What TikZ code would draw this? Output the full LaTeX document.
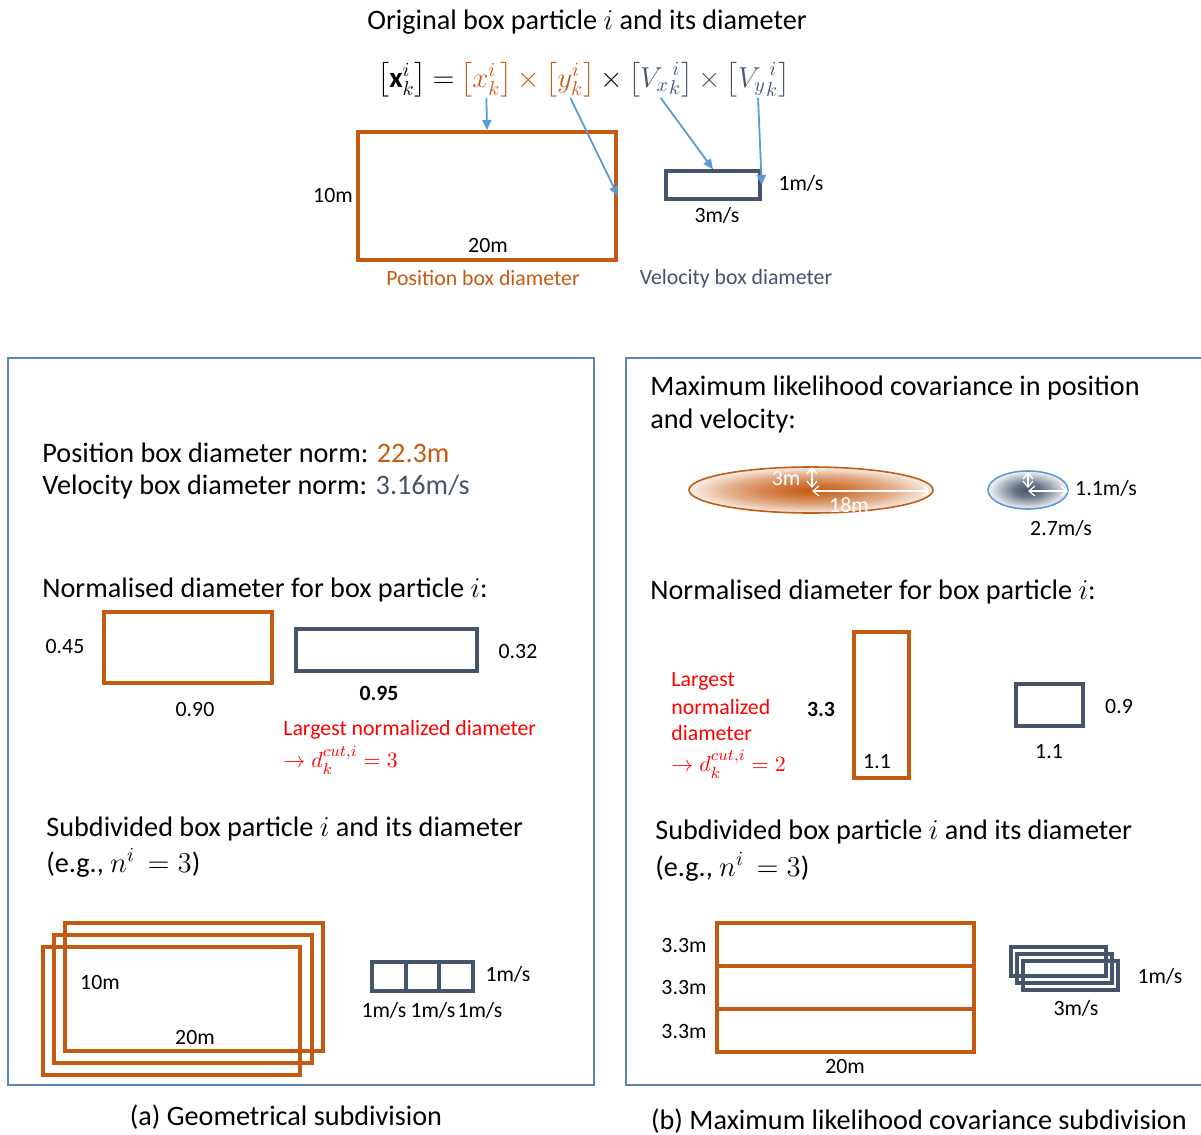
\documentclass[tikz,border=0pt]{standalone}
\usepackage{fontspec}
\setmainfont{Carlito}
\usepackage{amsmath, amssymb}
\usetikzlibrary{arrows.meta, positioning}
\definecolor{posorange}{HTML}{C55A11}
\definecolor{velslate}{HTML}{44546A}
\definecolor{linkblue}{HTML}{5B9BD5}
\definecolor{frameblue}{HTML}{5A85B5}
\newcommand{\sizebig}{\fontsize{14.1}{17}\selectfont}
\newcommand{\sizesmall}{\fontsize{10.9}{13}\selectfont}
\newcommand{\sizeform}{\fontsize{14.5}{17}\selectfont}
\pgfdeclareradialshading{posglow}{\pgfpoint{0bp}{0bp}}{color(0bp)=(posorange); color(8bp)=(posorange!80); color(17bp)=(posorange!48); color(25bp)=(posorange!10); color(50bp)=(posorange!10)}
\pgfdeclareradialshading{velglow}{\pgfpoint{0bp}{0bp}}{color(0bp)=(velslate); color(9bp)=(velslate!80); color(18bp)=(velslate!38); color(25bp)=(velslate!5); color(50bp)=(velslate!5)}
\tikzset{
  posbox/.style={draw=posorange, line width=2pt, inner sep=0pt},
  velbox/.style={draw=velslate, line width=1.75pt, inner sep=0pt},
  panel/.style={draw=frameblue, line width=0.75pt},
  link/.style={draw=linkblue, line width=0.9pt, -{Triangle[length=5pt, width=4.5pt]}},
  wharrow/.style={draw=white, line width=0.6pt, {Straight Barb[length=3pt, width=5pt]}-{Straight Barb[length=3pt, width=5pt]}},
  txt/.style={font=\sizebig, inner sep=0pt, anchor=west},
  lbl/.style={font=\sizesmall, inner sep=0pt},
  redtxt/.style={font=\sizesmall, inner sep=0pt, anchor=west, text=red},
  form/.style={font=\sizeform, inner sep=0pt},
}
\begin{document}
\begin{tikzpicture}[x=0.5pt, y=-0.5pt]
  \useasboundingbox (0,0) rectangle (1201,1135);
  % top: original box particle
  \node[txt, anchor=center] (ttl) at (587,22) {Original box particle $i$ and its diameter};
  \node[form] (f0) at (402,80) {$\left[\mathbf{x}_k^i\right]$};
  \node[form, base right=2.5pt of f0] (feq) {$=$};
  \node[form, base right=2.5pt of feq, text=posorange] (fx) {$\left[x_k^i\right]$};
  \node[form, base right=2.2pt of fx, text=posorange] (ft1) {$\times$};
  \node[form, base right=2.2pt of ft1, text=posorange] (fy) {$\left[y_k^i\right]$};
  \node[form, base right=2.2pt of fy] (ft2) {$\times$};
  \node[form, base right=2.2pt of ft2, text=velslate] (fvx) {$\left[{V_x}_k^{\,i}\right]$};
  \node[form, base right=2.2pt of fvx, text=velslate] (ft3) {$\times$};
  \node[form, base right=2.2pt of ft3, text=velslate] (fvy) {$\left[{V_y}_k^{\,i}\right]$};
  \node[posbox, minimum width=129pt, minimum height=64pt] (P) at (487,196) {};
  \node[velbox, minimum width=47pt, minimum height=14pt] (V) at (713,185) {};
  \draw[link] (fx.south) -- (P.north);
  \draw[link] (fy.south) -- (P.east);
  \draw[link] (fvx.south) -- (V.north);
  \draw[link] (fvy.south) -- (V.east);
  \node[lbl] (p10) at (333,196) {10m};
  \node[lbl] (p20) at (488,245) {20m};
  \node[lbl, text=posorange] (pcap) at (483,278) {Position box diameter};
  \node[lbl] (v1) at (801,183) {1m/s};
  \node[lbl] (v3) at (717,215) {3m/s};
  \node[lbl, text=velslate] (vcap) at (736,279) {Velocity box diameter};
  % panels
  \draw[panel] (8,358) rectangle (594,1085);
  \draw[panel] (626,358) rectangle (1215,1085);
  % (a) geometrical subdivision
  \node[txt] (an1) at (42,453) {Position box diameter norm: \textcolor{posorange}{22.3m}};
  \node[txt] (an2) at (42,487) {Velocity box diameter norm: \textcolor{velslate}{3.16m/s}};
  \node[txt] (anrm) at (42,590) {Normalised diameter for box particle $i$:};
  \node[posbox, minimum width=84pt, minimum height=35.5pt] (aP) at (188,647.5) {};
  \node[velbox, minimum width=90.5pt, minimum height=21pt] (aV) at (386.5,650) {};
  \node[lbl] (a045) at (65,647) {0.45};
  \node[lbl] (a090) at (195,710) {0.90};
  \node[lbl] (a032) at (518,652) {0.32};
  \node[lbl] (a095) at (379,693) {\textbf{0.95}};
  \node[redtxt] (ared1) at (283,730) {Largest normalized diameter};
  \node[redtxt] (ared2) at (283,760) {$\rightarrow d_k^{cut,i} = 3$};
  \node[txt] (asub1) at (46,829) {Subdivided box particle $i$ and its diameter};
  \node[txt] (asub2) at (46,863) {(e.g., $n^i\, = 3$)};
  \draw[posorange, line width=2pt] (65,923) rectangle (323,1051);
  \draw[posorange, line width=2pt] (54,935) rectangle (312,1063);
  \draw[posorange, line width=2pt] (43,947) rectangle (300,1075);
  \node[lbl] (a10) at (100,982) {10m};
  \node[lbl] (a20) at (195,1037) {20m};
  \draw[velslate, line width=1.75pt] (372,962) rectangle (473,991);
  \draw[velslate, line width=1.75pt] (406,962) -- (406,991);
  \draw[velslate, line width=1.75pt] (439,962) -- (439,991);
  \node[lbl] (av) at (508,974) {1m/s};
  \node[lbl] (avx1) at (384,1010) {1m/s};
  \node[lbl] (avx2) at (433,1010) {1m/s};
  \node[lbl] (avx3) at (480,1010) {1m/s};
  \node[txt, anchor=center] (acap) at (286,1117) {(a) Geometrical subdivision};
  % (b) maximum likelihood covariance subdivision
  \node[txt] (bml1) at (650,388) {Maximum likelihood covariance in position};
  \node[txt] (bml2) at (650,421) {and velocity:};
  \shade[shading=posglow, draw=posorange, line width=0.8pt] (811,490) ellipse [x radius=122, y radius=23];
  \shade[shading=velglow, draw=linkblue, line width=0.8pt] (1028,490) ellipse [x radius=40, y radius=19];
  \coordinate (e1c) at (812,491);
  \coordinate (e1r) at (930,491);
  \coordinate (e1t) at (812,467);
  \coordinate (e1b) at (812,488);
  \coordinate (e2c) at (1028,491);
  \coordinate (e2r) at (1068,491);
  \coordinate (e2t) at (1028,472);
  \coordinate (e2b) at (1028,488);
  \draw[wharrow] (e1c) -- (e1r);
  \draw[wharrow] (e1t) -- (e1b);
  \draw[wharrow] (e2c) -- (e2r);
  \draw[wharrow] (e2t) -- (e2b);
  \node[lbl, text=white] (b3m) at (786,478) {3m};
  \node[lbl, text=white] (b18m) at (849,505) {18m};
  \node[lbl] (b11v) at (1106,488) {1.1m/s};
  \node[lbl] (b27v) at (1061,528) {2.7m/s};
  \node[txt] (bnrm) at (650,592) {Normalised diameter for box particle $i$:};
  \node[redtxt] (bred1) at (671,681) {Largest};
  \node[redtxt] (bred2) at (671,707) {normalized};
  \node[redtxt] (bred3) at (671,733) {diameter};
  \node[redtxt] (bred4) at (671,764) {$\rightarrow d_k^{cut,i} = 2$};
  \node[lbl] (b33) at (821,709) {\textbf{3.3}};
  \node[posbox, minimum width=27.5pt, minimum height=73pt] (bP) at (881.5,705) {};
  \node[lbl] (b11p) at (877,762) {1.1};
  \node[velbox, minimum width=33.5pt, minimum height=21pt] (bV) at (1049.5,705) {};
  \node[lbl] (b09) at (1119,707) {0.9};
  \node[lbl] (b11) at (1049,752) {1.1};
  \node[txt] (bsub1) at (655,832) {Subdivided box particle $i$ and its diameter};
  \node[txt] (bsub2) at (655,867) {(e.g., $n^i\, = 3$)};
  \draw[posorange, line width=2pt] (717,923) rectangle (974,1052);
  \draw[posorange, line width=2pt] (717,966) -- (974,966);
  \draw[posorange, line width=2pt] (717,1009) -- (974,1009);
  \node[lbl] (b33a) at (684,946) {3.3m};
  \node[lbl] (b33b) at (684,988) {3.3m};
  \node[lbl] (b33c) at (684,1032) {3.3m};
  \node[lbl] (b20) at (845,1066) {20m};
  \draw[velslate, line width=1.75pt] (1011,947) rectangle (1106,976);
  \draw[velslate, line width=1.75pt] (1017,954) rectangle (1112,983);
  \draw[velslate, line width=1.75pt] (1023,961) rectangle (1118,990);
  \node[lbl] (bv1) at (1160,976) {1m/s};
  \node[lbl] (bv3) at (1076,1008) {3m/s};
  \node[txt, anchor=center] (bcap) at (919,1121) {(b) Maximum likelihood covariance subdivision};
\end{tikzpicture}
\end{document}
